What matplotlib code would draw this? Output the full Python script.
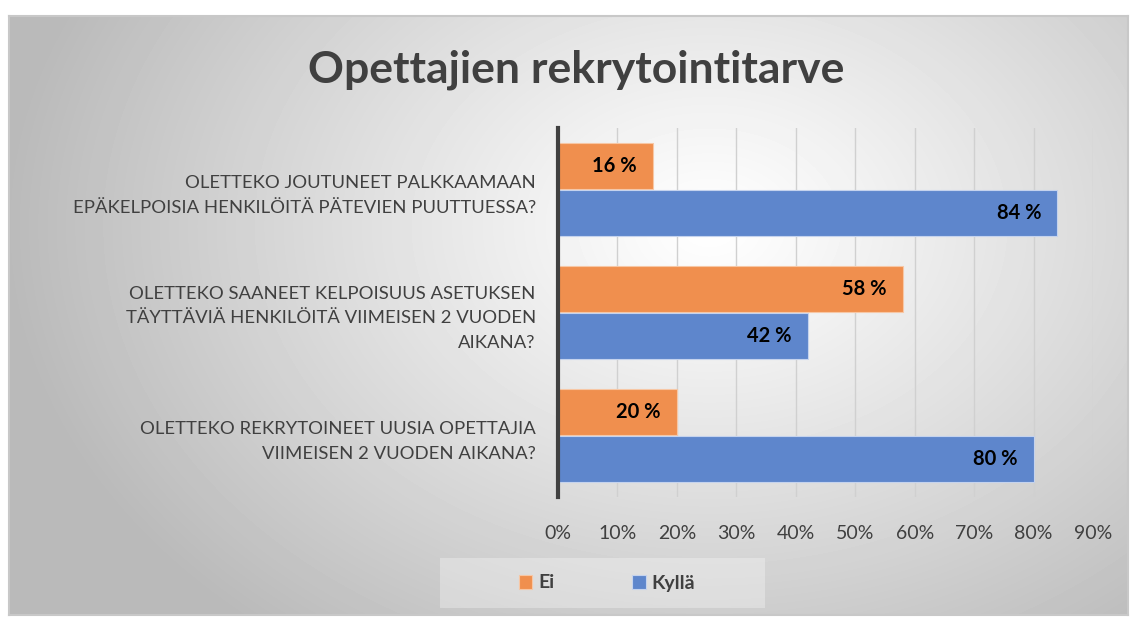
import numpy as np
import matplotlib.pyplot as plt
from matplotlib.patches import Rectangle

plt.rcParams['font.family'] = ['Lato', 'DejaVu Sans']

categories = [
    'OLETTEKO JOUTUNEET PALKKAAMAAN\nEPÄKELPOISIA HENKILÖITÄ PÄTEVIEN PUUTTUESSA?',
    'OLETTEKO SAANEET KELPOISUUS ASETUKSEN\nTÄYTTÄVIÄ HENKILÖITÄ VIIMEISEN 2 VUODEN\nAIKANA?',
    'OLETTEKO REKRYTOINEET UUSIA OPETTAJIA\nVIIMEISEN 2 VUODEN AIKANA?',
]
ei = [16, 58, 20]
kylla = [84, 42, 80]
ticks = [0, 10, 20, 30, 40, 50, 60, 70, 80, 90]

c_ei = '#F08F4E'
c_kylla = '#5E86CC'

W, H = 1133, 617
fig = plt.figure(figsize=(W / 100, H / 100), dpi=100)

# background gradient panel
bg = fig.add_axes([9 / W, 1 - 615 / H, 1119 / W, 599 / H])
yy, xx = np.mgrid[0:599, 0:1119]
d = np.sqrt(((xx - 700) / 700.0) ** 2 + ((yy - 210) / 520.0) ** 2)
d = np.clip(d, 0, 1)
val = 1.0 - 0.27 * d ** 1.1
bg.imshow(val, cmap='gray', vmin=0, vmax=1, aspect='auto', interpolation='bilinear')
bg.set_xticks([])
bg.set_yticks([])
for s in bg.spines.values():
    s.set_color('#c8c8c8')
    s.set_linewidth(1.5)

ax = fig.add_axes([558 / W, 1 - 497 / H, (1093 - 558) / W, (497 - 128) / H])
ax.patch.set_alpha(0)

y = np.arange(len(categories))
h = 0.37
b1 = ax.barh(y - h / 2 - 0.005, ei, height=h, color=c_ei, edgecolor='#f7c7a5', linewidth=0.8, zorder=3)
b2 = ax.barh(y + h / 2 + 0.005, kylla, height=h, color=c_kylla, edgecolor='#c5d3ee', linewidth=0.8, zorder=3)

for bars, vals in ((b1, ei), (b2, kylla)):
    for r, v in zip(bars, vals):
        ax.text(r.get_width() - 2.7, r.get_y() + r.get_height() / 2, f'{v} %',
                ha='right', va='center', fontsize=14.5, fontweight='bold', color='black', zorder=4)

ax.set_xlim(0, 90)
ax.set_ylim(2.5, -0.5)
ax.set_xticks(ticks)
ax.set_xticklabels([f'{t}%' for t in ticks], fontsize=14, color='#404040')
ax.set_yticks(y)
ax.set_yticklabels(categories, fontsize=13.3, color='#404040', linespacing=1.68)
for lbl in ax.get_yticklabels():
    lbl.set_horizontalalignment('right')
    lbl.set_multialignment('right')
ax.tick_params(axis='y', length=0, pad=16)
ax.tick_params(axis='x', length=0, pad=20)
ax.grid(axis='x', color='#d0d0d0', linewidth=1, zorder=0)
for s in ('top', 'right', 'bottom'):
    ax.spines[s].set_visible(False)
ax.spines['left'].set_color('#404040')
ax.spines['left'].set_linewidth(3)
ax.spines['left'].set_zorder(5)

fig.text(576 / W, 1 - 70 / H, 'Opettajien rekrytointitarve', ha='center', va='center',
         fontsize=32, fontweight='bold', color='#404040')

# legend box
fig.patches.append(Rectangle((440 / W, 1 - 608 / H), 325 / W, 50 / H, transform=fig.transFigure,
                             facecolor='white', alpha=0.3, edgecolor='none', zorder=1))
leg = fig.legend([b1, b2], ['Ei', 'Kyllä'], loc='center', bbox_to_anchor=(607 / W, 1 - 583 / H),
                 ncol=2, frameon=False, handlelength=0.7, handleheight=0.7, handletextpad=0.3,
                 columnspacing=4.0, prop={'size': 14, 'weight': 'bold'})
for t in leg.get_texts():
    t.set_color('#404040')

fig.savefig('out.png', dpi=100)
